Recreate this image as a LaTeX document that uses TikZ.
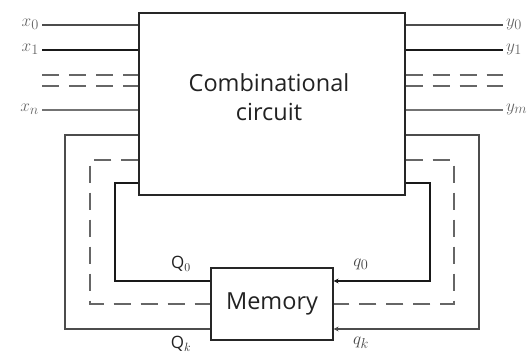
\documentclass[tikz,border=0pt]{standalone}
\usepackage{fontspec}
\setmainfont{Open Sans}
\usetikzlibrary{arrows.meta}
\definecolor{txt}{HTML}{222222}
\definecolor{lab}{HTML}{666666}
\definecolor{qlab}{HTML}{444444}
\begin{document}
\begin{tikzpicture}[x=1pt,y=-1pt,
  box/.style={draw=black!85,line width=1.2pt,inner sep=0pt},
  wire/.style={line width=1.5pt,draw=black!70},
  wdark/.style={line width=1.5pt,draw=black!90},
  wlight/.style={line width=1.5pt,draw=black!55},
  dwire/.style={line width=1.5pt,draw=black!60,dash pattern=on 17pt off 10pt},
  lbl/.style={text=lab,inner sep=0pt,font=\fontsize{19}{19}\selectfont},
  qlbl/.style={text=qlab,inner sep=0pt,font=\fontsize{19}{19}\selectfont},
  Qlbl/.style={text=txt,inner sep=0pt,font=\fontsize{17}{17}\selectfont},
  arr/.style={-{Stealth[length=5pt,width=5pt]}}]
\useasboundingbox (0,0) rectangle (532,354);
\node[box,minimum width=266pt,minimum height=182pt] (cc) at (272,104) {};
\node[text=txt,align=center,font=\fontsize{23.5}{29}\selectfont] (cct) at (269,97) {Combinational\\circuit};
\node[box,minimum width=122pt,minimum height=72pt,text=txt,font=\fontsize{23.5}{23.5}\selectfont] (mem) at (272,304) {Memory};
% inputs
\coordinate (i0) at (42,25);
\coordinate (i1) at (42,50);
\coordinate (id1) at (42,75);
\coordinate (id2) at (42,86);
\coordinate (in) at (42,110);
\node[lbl,anchor=east] (lx0) at (39,24) {$x_0$};
\node[lbl,anchor=east] (lx1) at (39,49) {$x_1$};
\node[lbl,anchor=east] (lxn) at (39,109) {$x_n$};
\draw[wire] (i0) -- (i0 -| cc.west);
\draw[wdark] (i1) -- (i1 -| cc.west);
\draw[dwire] (id1) -- (id1 -| cc.west);
\draw[dwire] (id2) -- (id2 -| cc.west);
\draw[wlight] (in) -- (in -| cc.west);
% outputs
\coordinate (o0) at (503,25);
\coordinate (o1) at (503,50);
\coordinate (od1) at (503,75);
\coordinate (od2) at (503,86);
\coordinate (om) at (503,110);
\node[lbl,anchor=west] (ly0) at (506,24) {$y_0$};
\node[lbl,anchor=west] (ly1) at (506,49) {$y_1$};
\node[lbl,anchor=west] (lym) at (506,109) {$y_m$};
\draw[wire] (o0 -| cc.east) -- (o0);
\draw[wdark] (o1 -| cc.east) -- (o1);
\draw[dwire] (od1 -| cc.east) -- (od1);
\draw[dwire] (od2 -| cc.east) -- (od2);
\draw[wlight] (om -| cc.east) -- (om);
% feedback left
\coordinate (la) at (65,135);
\coordinate (lb) at (90,160);
\coordinate (lc) at (115,183);
\draw[wire] (la -| cc.west) -- (la) -- (la |- 0,329) -- (mem.west |- 0,329);
\draw[dwire] (lb -| cc.west) -- (lb) -- (lb |- 0,304) -- (mem.west |- 0,304);
\draw[wdark] (lc -| cc.west) -- (lc) -- (lc |- 0,281) -- (mem.west |- 0,281);
% feedback right
\coordinate (ra) at (479,135);
\coordinate (rb) at (454,160);
\coordinate (rc) at (430,183);
\draw[wire,arr] (ra -| cc.east) -- (ra) -- (ra |- 0,329) -- (mem.east |- 0,329);
\draw[dwire] (rb -| cc.east) -- (rb) -- (rb |- 0,304) -- (mem.east |- 0,304);
\draw[wdark,arr] (rc -| cc.east) -- (rc) -- (rc |- 0,281) -- (mem.east |- 0,281);
% memory labels
\node[Qlbl] (lQ0) at (181,264) {Q$_0$};
\node[Qlbl] (lQk) at (181,344) {Q$_k$};
\node[qlbl] (lq0) at (361,264) {$q_0$};
\node[qlbl] (lqk) at (361,343) {$q_k$};
\end{tikzpicture}
\end{document}
